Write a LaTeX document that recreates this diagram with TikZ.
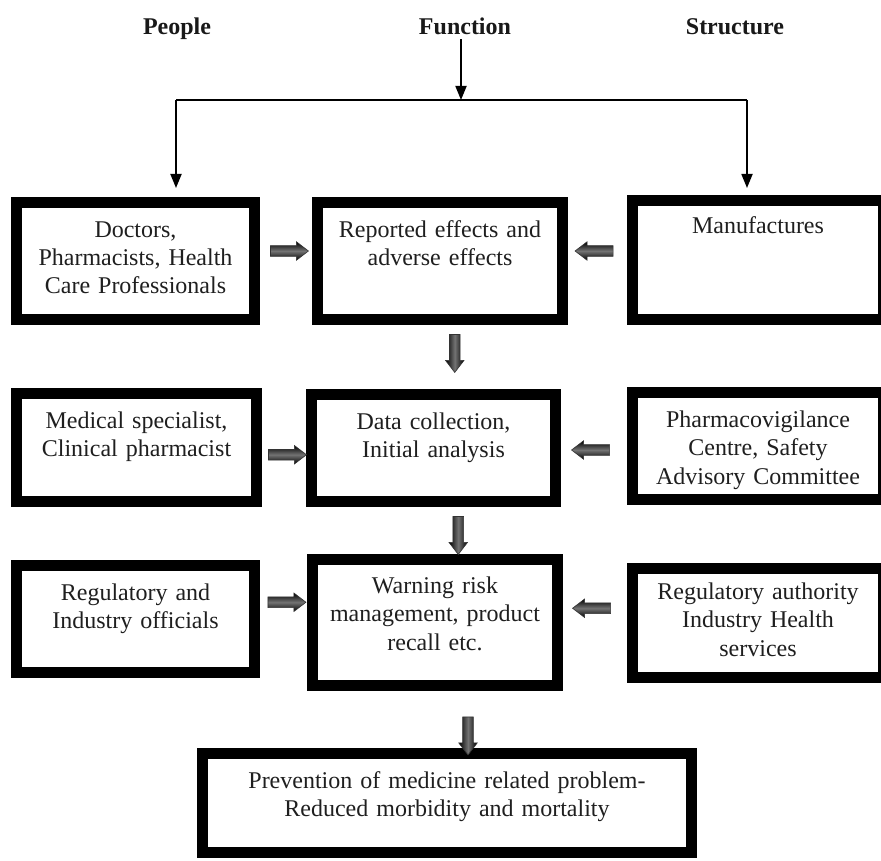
\documentclass[tikz,border=0pt]{standalone}
\usepackage{fontspec}
\setmainfont{Liberation Serif}
\usetikzlibrary{shapes.arrows,calc,arrows.meta}
\begin{document}
\begin{tikzpicture}[x=1pt,y=-1pt,
  boxbase/.style={draw=black, line width=11pt, fill=white, inner sep=0pt, align=center,
    font=\fontsize{24pt}{28.5pt}\selectfont, text=black!88},
  box/.style n args={3}{boxbase, text width=#1, text height=#2, text depth=#3},
  hdr/.style={font=\fontsize{24pt}{28pt}\selectfont\bfseries, text=black!90, inner sep=0pt, anchor=base},
  tline/.style={line width=1.8pt, black},
  tarr/.style={tline, -{Triangle[width=11pt,length=14pt]}},
  blk/.style={single arrow, draw=black!80, line width=0.6pt, inner sep=5pt,
    minimum height=38pt, minimum width=18pt, single arrow head extend=4pt,
    single arrow tip angle=75},
  rarr/.style={blk, top color=black, bottom color=black, middle color=black!55},
  larr/.style={rarr, shape border rotate=180},
  darr/.style={blk, shape border rotate=270, left color=black, right color=black, middle color=black!55}
]
\useasboundingbox (0,0) rectangle (881,861);
\fill[white] (0,0) rectangle (881,861);

% headers
\node[hdr] (P) at (177,35) {People};
\node[hdr] (F) at (465,35) {Function};
\node[hdr] (S) at (735,35) {Structure};

% row 1
\node[box={238pt}{34.5pt}{82.5pt}] (L1) at (135.5,261) {Doctors,\\Pharmacists, Health\\Care Professionals};
\node[box={245pt}{34.5pt}{82.5pt}] (C1) at (440,261) {Reported effects and\\adverse effects};
\node[box={251pt}{33.5pt}{85.5pt}] (R1) at (758,260) {Manufactures};
% row 2
\node[box={240pt}{34.5pt}{73.5pt}] (L2) at (136.5,447.5) {Medical specialist,\\Clinical pharmacist};
\node[box={244pt}{34.5pt}{72.5pt}] (C2) at (433.5,448) {Data collection,\\Initial analysis};
\node[box={251pt}{34.5pt}{72.5pt}] (R2) at (758,446) {Pharmacovigilance\\Centre, Safety\\Advisory Committee};
% row 3
\node[box={238pt}{34.5pt}{72.5pt}] (L3) at (135.5,619) {Regulatory and\\Industry officials};
\node[box={245pt}{33.5pt}{92.5pt}] (C3) at (435,622.5) {Warning risk\\management, product\\recall etc.};
\node[box={251pt}{30.5pt}{78.5pt}] (R3) at (758,623) {Regulatory authority\\Industry Health\\services};
% bottom
\node[box={489pt}{34.5pt}{64.5pt}] (B) at (447,803) {Prevention of medicine related problem-\\Reduced morbidity and mortality};

% top connectors
\coordinate (J) at (461,100);
\coordinate (JL) at (176,100);
\coordinate (JR) at (747,100);
\draw[tarr] (J |- F.south) ++(0,4) -- (J);
\draw[tline] (JL) -- (JR);
\draw[tarr, shorten >=9pt] (JL) -- (JL |- L1.north);
\draw[tarr, shorten >=7pt] (JR) -- (JR |- R1.north);

% block arrows
\node[rarr] (a1) at ($(L1.east)!.5!(C1.west)+(0,-10)$) {};
\node[larr] (a2) at ($(C1.east)!.5!(R1.west)+(0,-9.5)$) {};
\node[rarr] (a3) at ($(L2.east)!.5!(C2.west)+(0,7)$) {};
\node[larr] (a4) at ($(C2.east)!.5!(R2.west)+(0,3)$) {};
\node[rarr] (a5) at ($(L3.east)!.5!(C3.west)+(0,-18.5)$) {};
\node[larr] (a6) at ($(C3.east)!.5!(R3.west)+(0,-14.5)$) {};
\node[darr] (d1) at ($(C1.south)!.5!(C2.north)+(18,-7)$) {};
\node[darr] (d2) at ($(C2.south)!.5!(C3.north)+(24,1.5)$) {};
\node[darr] (d3) at ($(C3.south)!.5!(B.north)+(27,13)$) {};
\end{tikzpicture}
\end{document}
